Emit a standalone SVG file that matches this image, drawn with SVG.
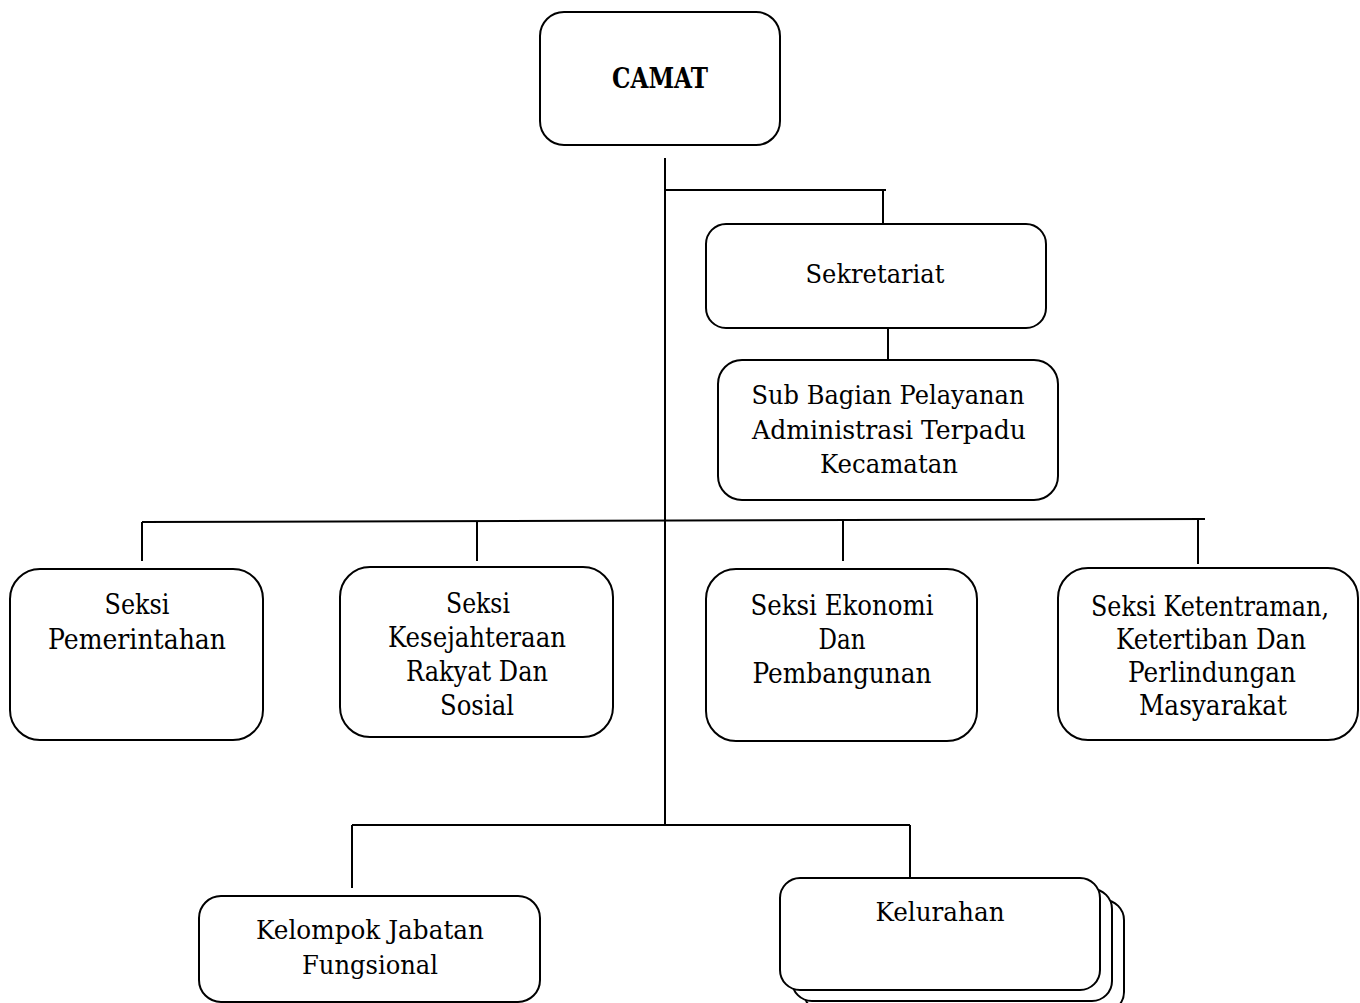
<svg xmlns="http://www.w3.org/2000/svg" width="1360" height="1003" viewBox="0 0 1360 1003">
<style>
.box{fill:#fff;stroke:#000;stroke-width:2}
.ln{fill:none;stroke:#000;stroke-width:2}
text{font-family:"DejaVu Serif","Liberation Serif",serif;font-size:26px;fill:#000;text-anchor:middle}
.b{font-weight:bold;font-size:27px}
.s{font-size:28px}
</style>
<rect width="1360" height="1003" fill="#fff"/>
<g id="connectors">
<path class="ln" d="M665 158V824"/>
<path class="ln" d="M665 190H886M883 190V224"/>
<path class="ln" d="M888 328V360"/>
<path class="ln" d="M142 522L1205 519"/>
<path class="ln" d="M142 522V561M477 521V561M843 520V561M1198 519V564"/>
<path class="ln" d="M352 825H910M352 825V888M910 825V878"/>
</g>
<g id="camat">
<rect class="box" x="540" y="12" width="240" height="133" rx="24"/>
<text class="b" x="660" y="88" textLength="96" lengthAdjust="spacingAndGlyphs">CAMAT</text>
</g>
<g id="sekretariat">
<rect class="box" x="706" y="224" width="340" height="104" rx="20"/>
<text x="875" y="283" textLength="139" lengthAdjust="spacingAndGlyphs">Sekretariat</text>
</g>
<g id="subbagian">
<rect class="box" x="718" y="360" width="340" height="140" rx="24"/>
<text x="888" y="404" textLength="273" lengthAdjust="spacingAndGlyphs">Sub Bagian Pelayanan</text>
<text x="889" y="439" textLength="274" lengthAdjust="spacingAndGlyphs">Administrasi Terpadu</text>
<text x="889" y="473" textLength="138" lengthAdjust="spacingAndGlyphs">Kecamatan</text>
</g>
<g id="pemerintahan">
<rect class="box" x="10" y="569" width="253" height="171" rx="30"/>
<text class="s" x="137" y="614" textLength="65" lengthAdjust="spacingAndGlyphs">Seksi</text>
<text class="s" x="137" y="649" textLength="178" lengthAdjust="spacingAndGlyphs">Pemerintahan</text>
</g>
<g id="kesejahteraan">
<rect class="box" x="340" y="567" width="273" height="170" rx="30"/>
<text class="s" x="478" y="613" textLength="64" lengthAdjust="spacingAndGlyphs">Seksi</text>
<text class="s" x="477" y="647" textLength="178" lengthAdjust="spacingAndGlyphs">Kesejahteraan</text>
<text class="s" x="477" y="681" textLength="142" lengthAdjust="spacingAndGlyphs">Rakyat Dan</text>
<text class="s" x="477" y="715" textLength="74" lengthAdjust="spacingAndGlyphs">Sosial</text>
</g>
<g id="ekonomi">
<rect class="box" x="706" y="569" width="271" height="172" rx="30"/>
<text class="s" x="842" y="615" textLength="183" lengthAdjust="spacingAndGlyphs">Seksi Ekonomi</text>
<text class="s" x="842" y="649" textLength="47" lengthAdjust="spacingAndGlyphs">Dan</text>
<text class="s" x="842" y="683" textLength="179" lengthAdjust="spacingAndGlyphs">Pembangunan</text>
</g>
<g id="ketentraman">
<rect class="box" x="1058" y="568" width="300" height="172" rx="30"/>
<text class="s" x="1210" y="616" textLength="238" lengthAdjust="spacingAndGlyphs">Seksi Ketentraman,</text>
<text class="s" x="1211" y="649" textLength="190" lengthAdjust="spacingAndGlyphs">Ketertiban Dan</text>
<text class="s" x="1212" y="682" textLength="168" lengthAdjust="spacingAndGlyphs">Perlindungan</text>
<text class="s" x="1213" y="715" textLength="148" lengthAdjust="spacingAndGlyphs">Masyarakat</text>
</g>
<g id="kelompok">
<rect class="box" x="199" y="896" width="341" height="106" rx="22"/>
<text x="370" y="939" textLength="228" lengthAdjust="spacingAndGlyphs">Kelompok Jabatan</text>
<text x="370" y="974" textLength="136" lengthAdjust="spacingAndGlyphs">Fungsional</text>
</g>
<g id="kelurahan">
<rect class="box" x="804" y="900" width="320" height="112" rx="20"/>
<rect class="box" x="792" y="889" width="320" height="112" rx="20"/>
<rect class="box" x="780" y="878" width="320" height="112" rx="20"/>
<text x="940" y="921" textLength="129" lengthAdjust="spacingAndGlyphs">Kelurahan</text>
</g>
</svg>
